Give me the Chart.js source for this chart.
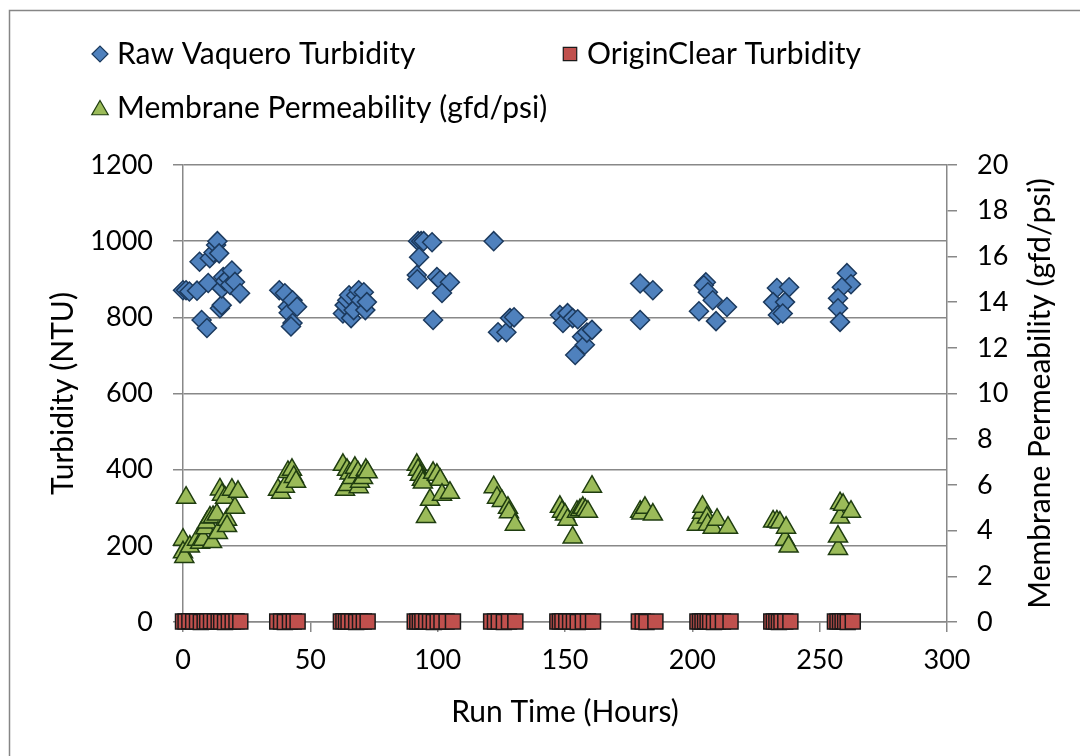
<!DOCTYPE html>
<html>
<head>
<meta charset="utf-8">
<script src="https://cdn.jsdelivr.net/npm/chart.js@4.4.1/dist/chart.umd.min.js"></script>
<style>
  html, body { margin:0; padding:0; background:#fff; }
  #wrap { position:relative; width:1080px; height:756px; overflow:hidden; }
</style>
</head>
<body>
<div id="wrap"><canvas id="chart" width="1080" height="756"></canvas></div>
<script>
// ── DATA ─────────────────────────────────────────────────────────
const rawTime = [0,1.2,2.5,5.5,6.5,7.3,9.4,9.9,10.5,12,13,13.5,14.2,14.5,15.2,15.2,15.8,16.5,17.7,18.5,19.2,20.4,22.4,
  37.8,40,41.2,41.5,43,43,42.4,44.8,
  62.8,63.5,64.5,65.2,66,67,68,69,69.8,71,71.6,72.2,
  92.3,93.5,94.5,97.8,92.7,91.8,92,99.7,101,104.8,101.7,98.2,
  122,123.7,127,128.4,130,
  148,149.2,151,153,154,156.7,157.8,158.6,160.6,155,
  179.5,184.5,179.5,
  205.3,204.5,206.1,208,202.6,209.3,213.6,
  233.2,238,231.7,236.4,233.6,235.5,
  260.7,262.3,258.7,257.2,257.2,258];
const rawTurbidity = [871,871,868,870,946,793,772,890,955,970,990,1000,968,824,832,876,906,895,903,885,923,893,863,
  871,863,828,812,845,785,776,828,
  810,832,845,858,798,819,858,871,845,866,819,840,
  1000,1000,1000,997,958,911,900,906,898,892,864,793,
  1000,761,761,798,800,
  806,785,811,798,701,749,728,760,767,795,
  889,871,793,
  892,884,866,845,816,790,827,
  877,879,840,840,806,810,
  916,887,879,850,824,788];

const clearTime = [0,1,2.5,4,5.5,7,8.5,9.5,11,12.5,14,15,16.5,18,19.5,21,22.5,
  37,38.5,40,42,43.5,45,
  62,63,64,65,66.5,68,69.5,71,72.5,
  91,92,93,94,95.5,97,98.5,100,101.5,103.5,106,
  121,122.5,124,126,128,130.5,
  147,148,149,150.5,152,153.5,155,157,159,161,
  179,180.5,182,185.5,
  202,203,204,205,206,207,208.5,210,212,215,
  231,232,233,234,235,236.5,238.5,
  256,257,258,259,260,261,263];
const clearTurbidity = [1,1,2,1,1,0,1,1,2,1,1,1,0,1,1,2,1,
  1,1,0,1,1,1,
  1,2,1,1,1,0,1,1,1,
  1,1,1,2,1,1,0,1,1,1,1,
  1,1,1,0,1,1,
  1,1,2,1,1,1,0,1,1,1,
  1,1,0,1,
  1,1,1,2,1,1,0,1,1,1,
  1,1,1,0,1,1,1,
  1,1,1,2,1,0,1];

const permTime = [0,0,0.5,1.2,2.7,5.5,6.7,7.9,8.8,9.4,10.6,11.4,11.8,13.3,13.7,14.5,15.3,16.5,17.3,17.3,19.2,20.4,21.6,
  37.3,38.5,40,41.2,42.8,43.5,44.4,
  62.8,63.6,64.4,64.8,65.4,66.3,67.5,68.7,69,69.5,70.7,71.8,72.5,
  91.8,92.3,93,93.8,94.2,95.4,97,98.2,99.7,101,101.7,104.8,
  122,123.3,125.2,127.6,128,130.3,
  148,148.8,150,151,153,154.7,155.9,157,158,159,160.6,
  179.5,180,181.4,184.5,
  201.8,203.8,204,205.7,206,208,209.7,214,
  231.7,233.2,234.4,236.4,236.8,237.8,
  257.2,257.2,258,258,259.2,262.3];
const permeability = [3.6,3.05,2.85,5.44,3.3,3.6,3.47,3.6,4.1,4.35,4.57,3.5,4.6,4.7,3.9,5.8,5.57,5.44,4.48,4.2,5.79,5.0,5.7,
  5.79,5.66,5.92,6.57,6.66,6.35,6.14,
  6.88,5.79,6.66,6.0,6.5,6.3,6.75,6.55,5.9,6.14,6.3,6.66,6.55,
  6.88,6.66,6.44,6.22,6.1,4.6,5.35,6.53,6.44,6.22,5.57,5.66,
  5.9,5.44,5.3,5.0,4.8,4.26,
  5.04,4.83,4.7,4.48,3.7,4.83,4.9,5.0,4.9,4.83,5.92,
  4.83,4.75,5.0,4.7,
  4.26,4.78,5.04,4.57,4.26,4.13,4.48,4.13,
  4.4,4.4,4.35,3.6,4.13,3.3,
  3.2,3.74,4.57,5.2,5.13,4.83];

const xTickStep = 50, leftTickStep = 200, rightTickStep = 2;

// ── STYLE ────────────────────────────────────────────────────────
const FONT = 'Lato, "Open Sans", sans-serif';
const FS = 30;      // titles + legend
const TICK_FS = 27; // tick labels
const GRID = '#888888';
const pts = (xs, ys) => xs.map((x, i) => ({ x, y: ys[i] }));
const plain = v => String(v);

Chart.defaults.font.family = FONT;
Chart.defaults.font.size = TICK_FS;
Chart.defaults.color = '#000';

// legend slots (Excel-style grid) + outer frame + right title reading upwards
const legendSlots = [[100, 54], [570, 54], [100, 108]];
const excelBits = {
  id: 'excelBits',
  beforeDraw(chart) {
    const ctx = chart.ctx;
    ctx.save();
    ctx.strokeStyle = '#868686';
    ctx.lineWidth = 1.5;
    ctx.strokeRect(9.5, 10.5, 1300, 1000);
    ctx.restore();
  },
  afterDraw(chart) {
    const ctx = chart.ctx;
    ctx.save();
    chart.data.datasets.forEach((ds, i) => {
      const [lx, ly] = legendSlots[i];
      ctx.fillStyle = ds.backgroundColor;
      ctx.strokeStyle = ds.borderColor;
      ctx.lineWidth = 1.2;
      Chart.helpers.drawPoint(ctx, { pointStyle: ds.pointStyle, radius: ds.legendRadius, borderWidth: 1.2, rotation: 0 }, lx, ly + (ds.pointStyle === 'triangle' ? 2 : 0));
      ctx.fillStyle = '#000';
      ctx.font = FS + 'px ' + FONT;
      ctx.textBaseline = 'middle';
      ctx.textAlign = 'left';
      ctx.fillText(ds.label, lx + 17, ly);
    });
    const a = chart.chartArea;
    ctx.translate(1040, (a.top + a.bottom) / 2);
    ctx.rotate(-Math.PI / 2);
    ctx.textAlign = 'center';
    ctx.textBaseline = 'middle';
    ctx.fillStyle = '#000';
    ctx.font = FS + 'px ' + FONT;
    ctx.fillText('Membrane Permeability (gfd/psi)', 0, 0);
    ctx.restore();
  }
};

new Chart(document.getElementById('chart'), {
  type: 'scatter',
  data: {
    datasets: [
      { label: 'Raw Vaquero Turbidity', data: pts(rawTime, rawTurbidity), yAxisID: 'y', clip: false,
        pointStyle: 'rectRot', pointRadius: 9.5, legendRadius: 8,
        backgroundColor: '#4F81BD', borderColor: '#1C3A5E', pointBorderWidth: 1.5 },
      { label: 'OriginClear Turbidity', data: pts(clearTime, clearTurbidity), yAxisID: 'y', clip: false,
        pointStyle: 'rect', pointRadius: 10.6, legendRadius: 9.5,
        backgroundColor: '#C0504D', borderColor: '#1a1a1a', pointBorderWidth: 1.5 },
      { label: 'Membrane Permeability (gfd/psi)', data: pts(permTime, permeability), yAxisID: 'y2', clip: false,
        pointStyle: 'triangle', pointRadius: 11, legendRadius: 9.5,
        backgroundColor: '#9BBB59', borderColor: '#1F3D10', pointBorderWidth: 1.5 }
    ]
  },
  options: {
    responsive: false,
    animation: false,
    events: [],
    layout: { padding: { top: 165, left: 0, right: 0, bottom: 0 } },
    plugins: { legend: { display: false }, tooltip: { enabled: false } },
    scales: {
      x: {
        type: 'linear', min: 0, max: 300,
        ticks: { stepSize: xTickStep, padding: 12, callback: plain },
        grid: { drawOnChartArea: false, tickLength: 10, color: GRID, lineWidth: 1.5 },
        border: { color: GRID, width: 1.5 },
        title: { display: true, text: 'Run Time (Hours)', font: { size: FS }, padding: { top: 0, bottom: 26 } },
        afterFit: s => { s.height = 134; }
      },
      y: {
        position: 'left', min: 0, max: 1200,
        ticks: { stepSize: leftTickStep, padding: 20, callback: plain },
        grid: { color: GRID, lineWidth: 1.5, tickLength: 10 },
        border: { color: GRID, width: 1.5 },
        title: { display: true, text: 'Turbidity (NTU)', font: { size: FS }, padding: { top: 45, bottom: 0 } },
        afterFit: s => { s.width = 183; }
      },
      y2: {
        position: 'right', min: 0, max: 20,
        ticks: { stepSize: rightTickStep, padding: 20, callback: plain },
        grid: { drawOnChartArea: false, color: GRID, lineWidth: 1.5, tickLength: 10 },
        border: { color: GRID, width: 1.5 },
        afterFit: s => { s.width = 133; }
      }
    }
  },
  plugins: [excelBits]
});
</script>
</body>
</html>
